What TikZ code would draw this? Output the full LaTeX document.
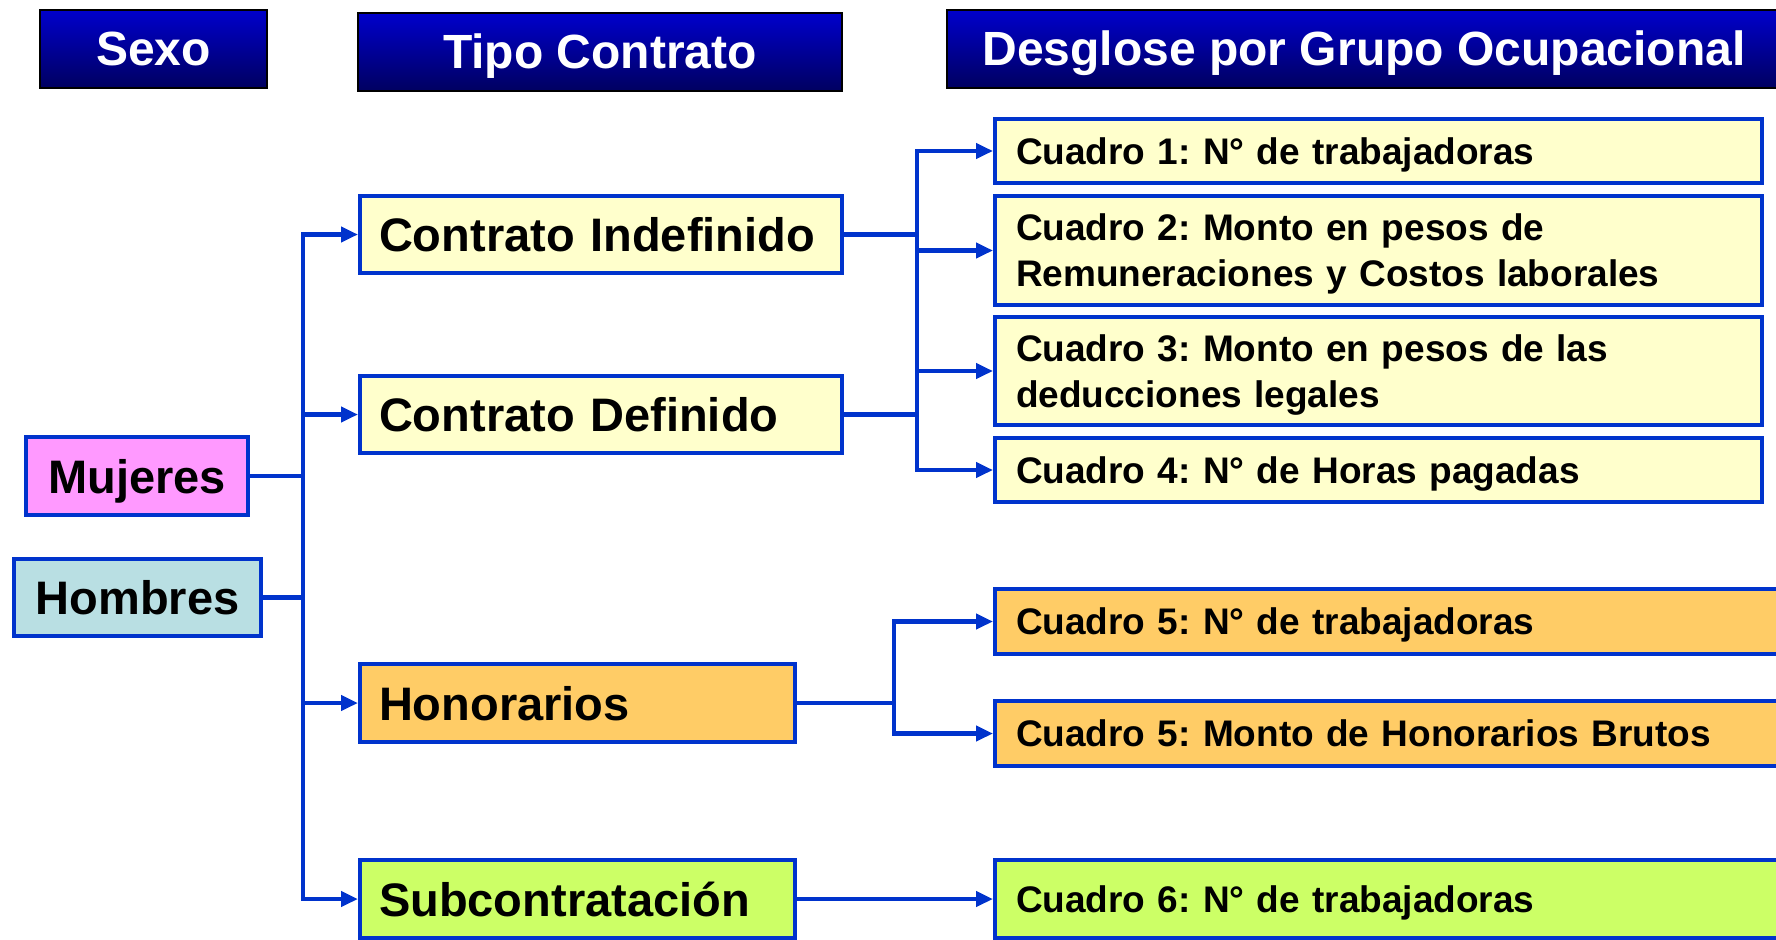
\documentclass[tikz,border=0pt]{standalone}
\usepackage{fontspec}
\setmainfont{Liberation Sans}
\frenchspacing
\usepackage{xcolor}
\usetikzlibrary{arrows.meta}
\definecolor{linkblue}{RGB}{0,51,204}
\definecolor{headtop}{RGB}{0,0,204}
\definecolor{headbot}{RGB}{0,0,96}
\definecolor{paleyellow}{RGB}{255,255,204}
\definecolor{softorange}{RGB}{255,204,102}
\definecolor{limegreen}{RGB}{204,255,102}
\definecolor{pinkbox}{RGB}{255,153,255}
\definecolor{bluegrey}{RGB}{185,223,227}
\tikzstyle{header} = [rectangle, 
minimum height=78pt,
inner ysep=0pt,
text centered, 
draw=black, line width=2pt,
top color=headtop, bottom color=headbot,
text=white,
font=\fontsize{48}{52}\selectfont\bfseries,
text height=40pt, text depth=6pt]
\tikzstyle{sexo} = [rectangle, 
minimum height=78pt,
inner ysep=0pt,
text centered, 
draw=linkblue, line width=4pt,
font=\fontsize{47}{52}\selectfont\bfseries,
text height=40pt, text depth=6pt]
\tikzstyle{contrato} = [rectangle, 
minimum height=77pt,
inner xsep=19pt, inner ysep=0pt,
text width=444pt, align=left,
draw=linkblue, line width=4pt,
font=\fontsize{47}{52}\selectfont\bfseries,
text height=40pt, text depth=6pt]
\tikzstyle{cuadro} = [rectangle, 
inner xsep=21pt, inner ysep=0pt,
text width=725pt, align=left,
draw=linkblue, line width=4pt,
font=\fontsize{37}{46}\selectfont\bfseries,
text height=32pt, text depth=5.5pt]
\tikzstyle{line} = [line width=4.5pt, draw=linkblue, line cap=rect]
\tikzstyle{arrow} = [line width=4.5pt, draw=linkblue, -{Triangle[length=17pt,width=15pt]}]
\begin{document}
\begin{tikzpicture}[x=1pt, y=-1pt]
\useasboundingbox (0,0) rectangle (1776,939);
\clip (0,0) rectangle (1776,939);

% column titles
\node (sexohead) [header, minimum width=227pt] at (153.5,49) {Sexo};
\node (tipohead) [header, minimum width=484pt] at (600,52) {Tipo Contrato};
\node (desghead) [header, minimum width=834pt] at (1364,49) {Desglose por Grupo Ocupacional};

% sexo
\node (mujeres) [sexo, fill=pinkbox, minimum width=222pt] at (137,476) {Mujeres};
\node (hombres) [sexo, fill=bluegrey, minimum width=247pt, minimum height=77pt] at (137.5,597.5) {Hombres};

% tipo contrato
\node (indef) [contrato, fill=paleyellow] at (601,234.5) {Contrato Indefinido};
\node (defin) [contrato, fill=paleyellow] at (601,414.5) {Contrato Definido};
\node (honor) [contrato, fill=softorange, text width=397pt, minimum height=78pt] at (577.5,703) {Honorarios};
\node (subc) [contrato, fill=limegreen, text width=397pt, minimum height=78pt] at (577.5,899) {Subcontratación};

% cuadros
\node (c1) [cuadro, fill=paleyellow, minimum height=64pt] at (1378.5,151) {Cuadro 1: N° de trabajadoras};
\node (c2) [cuadro, fill=paleyellow, minimum height=109pt, text depth=51.5pt] at (1378.5,250.5) {Cuadro 2: Monto en pesos de\\Remuneraciones y Costos laborales};
\node (c3) [cuadro, fill=paleyellow, minimum height=108pt, text depth=51.5pt] at (1378.5,371) {Cuadro 3: Monto en pesos de las\\deducciones legales};
\node (c4) [cuadro, fill=paleyellow, minimum height=64pt] at (1378.5,470) {Cuadro 4: N° de Horas pagadas};
\node (c5) [cuadro, fill=softorange, text width=761pt, minimum height=65pt] at (1396.5,621.5) {Cuadro 5: N° de trabajadoras};
\node (c5b) [cuadro, fill=softorange, text width=761pt, minimum height=65pt] at (1396.5,733.5) {Cuadro 5: Monto de Honorarios Brutos};
\node (c6) [cuadro, fill=limegreen, text width=761pt, minimum height=78pt] at (1396.5,899) {Cuadro 6: N° de trabajadoras};

\coordinate (sbus) at (303,0);
\coordinate (cbus) at (917,0);
\coordinate (hbus) at (894,0);

\draw [line] (mujeres.east) -- (mujeres.east -| sbus);
\draw [line] (hombres.east) -- (hombres.east -| sbus);
\draw [line] (sbus |- indef.west) -- (sbus |- subc.west);
\foreach \n in {indef,defin,honor,subc}
  \draw [arrow] (sbus |- \n.west) -- (\n.west);

\draw [line] (indef.east) -- (indef.east -| cbus);
\draw [line] (defin.east) -- (defin.east -| cbus);
\draw [line] (cbus |- c1.west) -- (cbus |- c4.west);
\foreach \n in {c1,c2,c3,c4}
  \draw [arrow] (cbus |- \n.west) -- (\n.west);

\draw [line] (honor.east) -- (honor.east -| hbus);
\draw [line] (hbus |- c5.west) -- (hbus |- c5b.west);
\foreach \n in {c5,c5b}
  \draw [arrow] (hbus |- \n.west) -- (\n.west);

\draw [arrow] (subc.east) -- (c6.west);

\end{tikzpicture}
\end{document}
